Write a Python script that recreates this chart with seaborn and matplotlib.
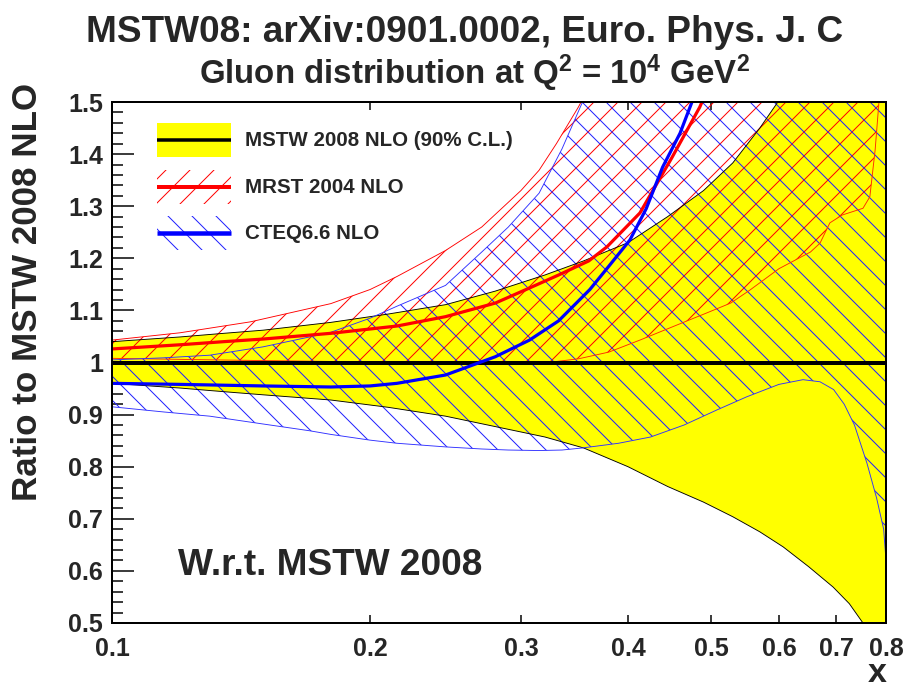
import matplotlib
matplotlib.use("Agg")
import matplotlib.pyplot as plt
import seaborn as sns
from matplotlib.patches import Patch
from matplotlib.lines import Line2D
from matplotlib.legend_handler import HandlerTuple, HandlerBase
from matplotlib.ticker import FixedLocator, FixedFormatter, NullLocator, MultipleLocator

# ---------------- data ----------------
mstw_x = [0.10, 0.12, 0.135, 0.15, 0.18, 0.21, 0.245, 0.28, 0.32, 0.355, 0.40, 0.445,
          0.49, 0.53, 0.57, 0.607, 0.65, 0.694, 0.725, 0.752, 0.78, 0.80]
mstw_hi = [1.040, 1.049, 1.056, 1.062, 1.077, 1.093, 1.111, 1.137, 1.168, 1.195, 1.230, 1.280,
           1.330, 1.383, 1.450, 1.515, 1.60, 1.70, 1.76, 1.82, 1.88, 1.92]
mstw_lo = [0.960, 0.951, 0.944, 0.938, 0.928, 0.914, 0.897, 0.877, 0.857, 0.836, 0.800, 0.762,
           0.732, 0.704, 0.675, 0.646, 0.608, 0.569, 0.537, 0.500, 0.455, 0.420]
mstw_cx = [0.10, 0.80]
mstw_c = [1.0, 1.0]

mrst_x = [0.10, 0.12, 0.145, 0.18, 0.20, 0.215, 0.245, 0.27, 0.30, 0.315, 0.33, 0.35, 0.38,
          0.413, 0.45, 0.494, 0.527, 0.555, 0.60, 0.653, 0.67, 0.688, 0.711, 0.752, 0.766,
          0.777, 0.785, 0.80]
mrst_hi = [1.043, 1.057, 1.078, 1.113, 1.140, 1.165, 1.215, 1.260, 1.330, 1.369, 1.420, 1.490,
           1.600, 1.720, 1.850, 2.0, 2.0, 2.0, 2.0, 2.0, 2.0, 2.0, 2.0, 2.0, 2.0, 2.0, 2.0, 2.0]
mrst_lo = [1.008, 1.006, 1.004, 1.002, 1.000, 0.998, 0.997, 0.996, 0.997, 0.999, 1.002, 1.007,
           1.020, 1.043, 1.068, 1.095, 1.114, 1.139, 1.180, 1.212, 1.229, 1.268, 1.283, 1.296,
           1.318, 1.408, 1.500, 1.600]
mrst_cx = [0.10, 0.12, 0.135, 0.15, 0.18, 0.215, 0.245, 0.28, 0.307, 0.332, 0.36, 0.378,
           0.413, 0.45, 0.485, 0.50]
mrst_c = [1.026, 1.034, 1.040, 1.045, 1.056, 1.070, 1.088, 1.114, 1.143, 1.168, 1.195, 1.222,
          1.287, 1.393, 1.490, 1.540]

cteq_x = [0.10, 0.115, 0.13, 0.15, 0.17, 0.18, 0.20, 0.215, 0.245, 0.27, 0.29, 0.315, 0.335,
          0.354, 0.39, 0.425, 0.465, 0.508, 0.55, 0.60, 0.64, 0.67, 0.695, 0.715, 0.735, 0.76,
          0.78, 0.795, 0.80]
cteq_hi = [1.005, 1.009, 1.014, 1.030, 1.049, 1.058, 1.085, 1.108, 1.148, 1.212, 1.260, 1.325,
           1.410, 1.500, 1.700, 1.900, 2.0, 2.0, 2.0, 2.0, 2.0, 2.0, 2.0, 2.0, 2.0, 2.0, 2.0,
           2.0, 2.0]
cteq_lo = [0.915, 0.905, 0.897, 0.882, 0.869, 0.862, 0.851, 0.845, 0.838, 0.834, 0.832, 0.831,
           0.832, 0.836, 0.845, 0.857, 0.880, 0.909, 0.934, 0.958, 0.967, 0.963, 0.948, 0.920,
           0.880, 0.807, 0.740, 0.680, 0.620]
cteq_cx = [0.10, 0.12, 0.15, 0.18, 0.20, 0.215, 0.245, 0.28, 0.307, 0.332, 0.361, 0.38, 0.402,
           0.42, 0.439, 0.46, 0.475, 0.50]
cteq_c = [0.960, 0.958, 0.955, 0.953, 0.955, 0.960, 0.976, 1.011, 1.043, 1.080, 1.140, 1.185,
          1.235, 1.295, 1.375, 1.440, 1.500, 1.600]

xtick_vals = [0.1, 0.2, 0.3, 0.4, 0.5, 0.6, 0.7, 0.8]
xtick_labels = ["0.1", "0.2", "0.3", "0.4", "0.5", "0.6", "0.7", "0.8"]
ytick_vals = [0.5, 0.6, 0.7, 0.8, 0.9, 1.0, 1.1, 1.2, 1.3, 1.4, 1.5]
ytick_labels = ["0.5", "0.6", "0.7", "0.8", "0.9", "1", "1.1", "1.2", "1.3", "1.4", "1.5"]
legend_labels = ["MSTW 2008 NLO (90% C.L.)", "MRST 2004 NLO", "CTEQ6.6 NLO"]


class HandlerCenterLine(HandlerBase):
    """Legend line drawn through the vertical centre of the handle box."""
    def create_artists(self, legend, orig_handle, xdescent, ydescent, width, height,
                       fontsize, trans):
        y = -ydescent + height / 2.0
        line = Line2D([-xdescent, -xdescent + width], [y, y],
                      color=orig_handle.get_color(), lw=orig_handle.get_linewidth(),
                      solid_capstyle="butt")
        line.set_transform(trans)
        return [line]


# ---------------- style ----------------
sns.set_style("ticks")
plt.rcParams["font.family"] = ["Liberation Sans", "DejaVu Sans"]
plt.rcParams["font.weight"] = "bold"
plt.rcParams["mathtext.default"] = "regular"
plt.rcParams["hatch.linewidth"] = 1.0

DPI = 72
fig = plt.figure(figsize=(903 / DPI, 692 / DPI), dpi=DPI)
fig.patch.set_facecolor("white")
ax = fig.add_axes([112 / 903, 1 - 623 / 692, 774 / 903, 521 / 692])
ax.set_facecolor("white")

ax.set_xscale("log")
ax.set_xlim(0.1, 0.8)
ax.set_ylim(0.5, 1.5)

# MSTW band
ax.fill_between(mstw_x, mstw_lo, mstw_hi, facecolor="#ffff00", edgecolor="none", lw=0, zorder=1)
ax.plot(mstw_x, mstw_hi, color="black", lw=0.9, zorder=3)
ax.plot(mstw_x, mstw_lo, color="black", lw=0.9, zorder=3)

# MRST band
ax.fill_between(mrst_x, mrst_lo, mrst_hi, facecolor="none", edgecolor="#ff0000", lw=0,
                hatch="/", zorder=2)
ax.plot(mrst_x, mrst_hi, color="#ff0000", lw=0.9, zorder=3)
ax.plot(mrst_x, mrst_lo, color="#ff2a00", lw=0.9, zorder=3)

# CTEQ band
ax.fill_between(cteq_x, cteq_lo, cteq_hi, facecolor="none", edgecolor="#2020ff", lw=0,
                hatch="\\", zorder=2)
ax.plot(cteq_x, cteq_hi, color="#3030ff", lw=0.9, zorder=3)
ax.plot(cteq_x, cteq_lo, color="#3030ff", lw=0.9, zorder=3)

# central lines (seaborn)
sns.lineplot(x=mstw_cx, y=mstw_c, ax=ax, color="black", lw=4, zorder=5)
sns.lineplot(x=mrst_cx, y=mrst_c, ax=ax, color="#ff0000", lw=3.2, zorder=6)
sns.lineplot(x=cteq_cx, y=cteq_c, ax=ax, color="#0000ff", lw=3.2, zorder=7)

ax.set_xlim(0.1, 0.8)
ax.set_ylim(0.5, 1.5)

# ticks
ax.xaxis.set_major_locator(FixedLocator(xtick_vals))
ax.xaxis.set_major_formatter(FixedFormatter(xtick_labels))
ax.xaxis.set_minor_locator(NullLocator())
ax.yaxis.set_major_locator(FixedLocator(ytick_vals))
ax.yaxis.set_major_formatter(FixedFormatter(ytick_labels))
ax.yaxis.set_minor_locator(MultipleLocator(0.02))
ax.tick_params(axis="both", which="both", direction="in", top=True, right=True,
               width=1.5, color="black", labelsize=25)
ax.tick_params(axis="y", which="major", length=22, pad=9)
ax.tick_params(axis="y", which="minor", length=11)
ax.tick_params(axis="x", which="major", length=8, pad=14)
for lab in ax.get_xticklabels() + ax.get_yticklabels():
    lab.set_fontweight("bold")
for sp in ax.spines.values():
    sp.set_linewidth(2)
    sp.set_color("black")
    sp.set_visible(True)
    sp.set_zorder(10)

# legend
handles = [
    (Patch(facecolor="#ffff00", edgecolor="none", lw=0), Line2D([], [], color="black", lw=3.5)),
    (Patch(facecolor="none", edgecolor="#ff0000", lw=0, hatch="/"), Line2D([], [], color="#ff0000", lw=4)),
    (Patch(facecolor="none", edgecolor="#2020ff", lw=0, hatch="\\"), Line2D([], [], color="#0000ff", lw=4.5)),
]
fs_leg = 20.5
leg = ax.legend(handles, legend_labels,
                handler_map={tuple: HandlerTuple(ndivide=1, pad=0), Line2D: HandlerCenterLine()},
                loc="upper left", bbox_to_anchor=((157 - 112) / 774, 1 - (123 - 102) / 521),
                frameon=False, borderpad=0, borderaxespad=0,
                handlelength=74 / fs_leg, handleheight=2.175,
                handletextpad=14 / fs_leg, labelspacing=12.5 / fs_leg,
                prop={"size": fs_leg, "weight": "bold"})
leg.set_zorder(20)

# texts
ax.text((178 - 112) / 774, (623 - 575) / 521, "W.r.t. MSTW 2008", transform=ax.transAxes,
        ha="left", va="baseline", fontsize=37, fontweight="bold", zorder=20)
ax.text((877 - 112) / 774, (623 - 674) / 521, "x", transform=ax.transAxes,
        ha="center", va="center", fontsize=34, fontweight="bold")
fig.text(28 / 903, 1 - 292 / 692, "Ratio to MSTW 2008 NLO", rotation=90,
         ha="center", va="center", fontsize=35, fontweight="bold")
fig.text(465 / 903, 1 - 42 / 692, "MSTW08: arXiv:0901.0002, Euro. Phys. J. C",
         ha="center", va="baseline", fontsize=37, fontweight="bold")
fig.text(475 / 903, 1 - 84 / 692, r"Gluon distribution at Q$^{2}$ = 10$^{4}$ GeV$^{2}$",
         ha="center", va="baseline", fontsize=33, fontweight="bold")

fig.savefig("out.png", dpi=DPI, facecolor="white")
